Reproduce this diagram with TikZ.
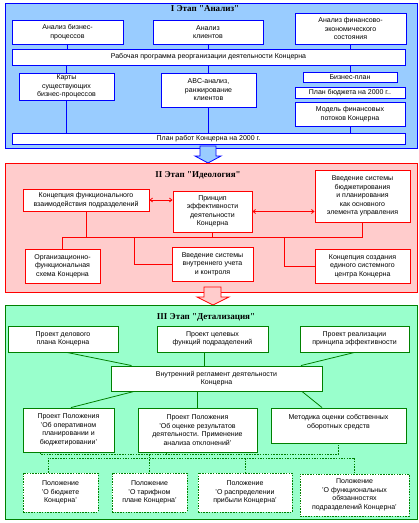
\documentclass[tikz,border=0pt]{standalone}
\usepackage{fontspec}
\setmainfont{Liberation Sans}
\newfontfamily\stagefont{Liberation Serif}
\usetikzlibrary{arrows.meta}

\definecolor{anfill}{HTML}{99CCFF}
\definecolor{anline}{HTML}{0000FF}
\definecolor{idfill}{HTML}{FFCCCC}
\definecolor{idline}{HTML}{FF0000}
\definecolor{dtfill}{HTML}{99FFCC}
\definecolor{dtline}{HTML}{008000}

\begin{document}
\begin{tikzpicture}[x=1pt,y=-1pt,line width=0.8pt,
  box/.style={draw,fill=white,line width=0.9pt,align=center,inner sep=0pt,
    font=\fontsize{7}{8.5}\selectfont},
  anbox/.style={box,draw=anline},
  idbox/.style={box,draw=idline},
  dtbox/.style={box,draw=dtline},
  dotbox/.style={box,draw=dtline,dash pattern=on 1.5pt off 1.2pt},
  stage/.style={font=\stagefont\bfseries\fontsize{9}{10}\selectfont},
  dotwire/.style={draw=dtline,dash pattern=on 1.5pt off 1.2pt}]
\useasboundingbox (0,0) rectangle (419,523);
% Reference grid (temporary)
%\draw[help lines,step=10] (0,0) grid (419,523);

% ---------- I Stage ----------
\draw[draw=anline,fill=anfill] (5,3) rectangle (417,148);
\node[stage] (antitle) at (205,9) {I Этап "Анализ"};

\node[anbox,minimum width=111,minimum height=24] (anbp) at (67.5,32) {Анализ бизнес-\\процессов};
\node[anbox,minimum width=110,minimum height=24] (ancl) at (208,32) {Анализ\\клиентов};
\node[anbox,minimum width=111,minimum height=31] (anfin) at (350.5,28.5) {Анализ финансово-\\экономического\\состояния};
\node[anbox,minimum width=393,minimum height=16] (prog) at (208.5,57) {Рабочая программа реорганизации деятельности Концерна};
\node[anbox,minimum width=95,minimum height=27] (maps) at (66.5,86.5) {Карты\\существующих\\бизнес-процессов};
\node[anbox,minimum width=95,minimum height=34] (abc) at (208.5,90) {ABC-анализ,\\ранжирование\\клиентов};
\node[anbox,minimum width=94,minimum height=10] (bplan) at (350,77) {Бизнес-план};
\node[anbox,minimum width=110,minimum height=11] (budget) at (350,92.5) {План бюджета на 2000 г..};
\node[anbox,minimum width=110,minimum height=24] (fmodel) at (350,114) {Модель финансовых\\потоков Концерна};
\node[anbox,minimum width=393,minimum height=11] (works) at (208.5,138.5) {План работ Концерна на 2000 г.};

% Wires
\foreach \a in {anbp,ancl,anfin} {
  \draw[anline] (\a.south) -- (\a.south |- prog.north);
}
\foreach \b in {maps,abc,bplan} {
  \draw[anline] (prog.south -| \b.north) -- (\b.north);
}
\foreach \a in {maps,abc,fmodel} {
  \draw[anline] (\a.south) -- (\a.south |- works.north);
}

% Exit arrow I -> II
\draw[draw=anline,fill=anfill] (200,146) -- (216,146) -- (216,156) -- (221,156)
  -- (208,163) -- (195,156) -- (200,156) -- cycle;

% ---------- II Stage ----------
\draw[draw=idline,fill=idfill] (5,163) rectangle (417,292);
\node[stage] (idtitle) at (198,175) {II Этап "Идеология"};

\node[idbox,minimum width=126,minimum height=22] (fcon) at (86,200) {Концепция функционального\\взаимодействия подразделений};
\node[idbox,minimum width=79,minimum height=41] (eff) at (212.5,211.5) {Принцип\\эффективности\\деятельности\\Концерна};
\node[idbox,minimum width=95,minimum height=52] (budsys) at (362.5,196) {Введение системы\\бюджетирования\\и планирования\\как основного\\элемента управления};
\node[idbox,minimum width=75,minimum height=34] (orgs) at (62.5,266) {Организационно-\\функциональная\\схема Концерна};
\node[idbox,minimum width=81,minimum height=34] (ctrl) at (212.5,264) {Введение системы\\внутреннего учета\\и контроля};
\node[idbox,minimum width=95,minimum height=34] (center) at (362.5,266) {Концепция создания\\единого системного\\центра Концерна};

% Links
\draw[idline,{Straight Barb[length=2.5pt,width=4pt]}-{Straight Barb[length=2.5pt,width=4pt]}]
  (fcon.east) -- (fcon.east -| eff.west);
\draw[idline,{Straight Barb[length=2.5pt,width=4pt]}-{Straight Barb[length=2.5pt,width=4pt]}]
  (eff.east) -- (eff.east -| budsys.west);

% Bus
\coordinate (idbus) at (0,237);
\coordinate (ctrlfork) at (134,237);
\coordinate (cenfork) at (284,237);
\draw[idline] (orgs.north) -- (orgs.north |- idbus) -- (budsys.south |- idbus) -- (budsys.south);
\draw[idline] (fcon.south) -- (fcon.south |- idbus);
\draw[idline] (eff.south) -- (eff.south |- idbus);
\draw[idline] (ctrlfork) |- (ctrl.west);
\draw[idline] (cenfork) |- (center.west);

% Exit arrow II -> III
\draw[draw=idline,fill=idfill] (204,287) -- (221,287) -- (221,297) -- (229,297)
  -- (213,305) -- (197,297) -- (204,297) -- cycle;

% ---------- III Stage ----------
\draw[draw=dtline,fill=dtfill] (5,305) rectangle (417,519);
\node[stage] (dttitle) at (206,317) {III Этап "Детализация"};

\node[dtbox,minimum width=110,minimum height=26] (plan) at (63,339) {Проект делового\\плана Концерна};
\node[dtbox,minimum width=111,minimum height=26] (goal) at (212.5,339) {Проект целевых\\функций подразделений};
\node[dtbox,minimum width=109,minimum height=26] (impl) at (354.5,339) {Проект реализации\\принципа эффективности};
\node[dtbox,minimum width=211,minimum height=25] (reg) at (216.5,378.5) {Внутренний регламент деятельности\\Концерна};
\node[dtbox,minimum width=91,minimum height=44] (oper) at (68.5,430) {Проект Положения\\'Об оперативном\\планировании и\\бюджетировании'};
\node[dtbox,minimum width=119,minimum height=44] (eval) at (197.5,430) {Проект Положения\\'Об оценке результатов\\деятельности. Применение\\анализа отклонений'};
\node[dtbox,minimum width=135,minimum height=35] (meth) at (338.5,425.5) {Методика оценки собственных\\оборотных средств\\\mbox{}};

\node[dotbox,minimum width=75,minimum height=39] (pbud) at (60.5,492.5) {Положение\\'О бюджете\\Концерна'};
\node[dotbox,minimum width=75,minimum height=39] (ptar) at (149.5,492.5) {Положение\\'О тарифном\\плане Концерна'};
\node[dotbox,minimum width=94,minimum height=39] (pprof) at (245,492.5) {Положение\\'О распределении\\прибыли Концерна'};
\node[dotbox,minimum width=109,minimum height=42] (pfunc) at (354.5,495) {Положение\\'О функциональных\\обязанностях\\подразделений Концерна'};

% Wires to the rules
\draw[dtline] ([xshift=4]plan.south) -- ([xshift=-85]reg.north);
\draw[dtline] ([xshift=-8]goal.south) -- ([xshift=-8]goal.south |- reg.north);
\draw[dtline] (impl.south) -- ([xshift=84.5]reg.north);
\draw[dtline] ([xshift=-82.5]reg.south) -- ([xshift=2.5]oper.north);
\draw[dtline] (eval.north |- reg.south) -- (eval.north);
\draw[dtline] ([xshift=85.5]reg.south) -- ([xshift=-16.5]meth.north);

% Dotted buses
\coordinate (dtbusA) at (0,454);
\coordinate (dtbusB) at (0,458);
\draw[dotwire] ([xshift=-28.5]oper.south) -- ([xshift=-28.5]oper.south |- dtbusA)
  -- (meth.south |- dtbusA) -- (meth.south);
\draw[dotwire] ([xshift=-31.5]eval.south) -- ([xshift=-31.5]eval.south |- dtbusA);
\draw[dotwire] ([xshift=-12.5]pbud.north) -- ([xshift=-12.5]pbud.north |- dtbusB)
  -- (pfunc.north |- dtbusB) -- (pfunc.north);
\draw[dotwire] (ptar.north |- dtbusA) -- (ptar.north);
\draw[dotwire] (pprof.north |- dtbusB) -- (pprof.north);

\end{tikzpicture}
\end{document}
